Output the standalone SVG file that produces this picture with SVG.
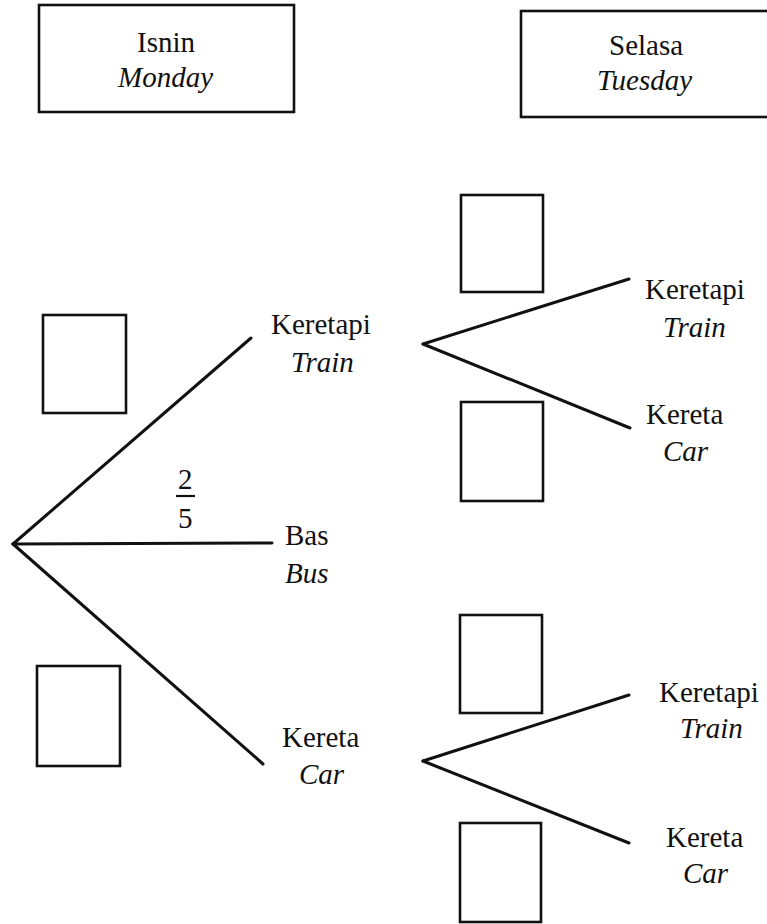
<svg xmlns="http://www.w3.org/2000/svg" width="767" height="924" viewBox="0 0 767 924">
<style>
.serif{font-family:"Times New Roman","Liberation Serif",Tinos,serif !important;font-size:29px}
</style>
<rect width="767" height="924" fill="#fff"/>
<g id="connectors" stroke="#111" stroke-width="3" fill="none" stroke-linecap="round">
<line x1="13" y1="544" x2="251" y2="338"/>
<line x1="13" y1="544" x2="272" y2="543"/>
<line x1="13" y1="544" x2="263" y2="764"/>
<line x1="423" y1="344" x2="629" y2="279"/>
<line x1="423" y1="344" x2="630" y2="428"/>
<line x1="423" y1="761" x2="629" y2="695"/>
<line x1="423" y1="761" x2="629" y2="843"/>
<line stroke-width="2.2" stroke-linecap="butt" x1="176" y1="496" x2="195" y2="496"/>
</g>
<g id="boxes" fill="#fff" stroke="#111" stroke-width="2.6">
<g id="head-monday-box"><rect x="39" y="5" width="255" height="107"/></g>
<g id="head-tuesday-box"><rect x="521" y="11" width="260" height="106"/></g>
<g id="box-m-train"><rect x="43" y="315" width="83" height="98"/></g>
<g id="box-m-car"><rect x="37" y="666" width="83" height="100"/></g>
<g id="box-t1-train"><rect x="461" y="195" width="82" height="97"/></g>
<g id="box-t1-car"><rect x="461" y="402" width="82" height="99"/></g>
<g id="box-t2-train"><rect x="460" y="615" width="82" height="98"/></g>
<g id="box-t2-car"><rect x="460" y="823" width="81" height="99"/></g>
</g>
<g id="labels" class="serif" font-family="Times New Roman, Liberation Serif, serif" font-size="29" fill="#111">
<g id="head-monday"><text x="137" y="52">Isnin</text><text x="118" y="87" font-style="italic">Monday</text></g>
<g id="head-tuesday"><text x="609" y="55">Selasa</text><text x="597" y="90" font-style="italic">Tuesday</text></g>
<g id="frac"><text x="178" y="489">2</text><text x="178" y="528">5</text></g>
<g id="m-train"><text x="271" y="334">Keretapi</text><text x="291" y="372" font-style="italic">Train</text></g>
<g id="m-bus"><text x="285" y="545">Bas</text><text x="285" y="583" font-style="italic">Bus</text></g>
<g id="m-car"><text x="282" y="747">Kereta</text><text x="299" y="784" font-style="italic">Car</text></g>
<g id="t1-train"><text x="645" y="299">Keretapi</text><text x="663" y="337" font-style="italic">Train</text></g>
<g id="t1-car"><text x="646" y="424">Kereta</text><text x="663" y="461" font-style="italic">Car</text></g>
<g id="t2-train"><text x="659" y="702">Keretapi</text><text x="680" y="738" font-style="italic">Train</text></g>
<g id="t2-car"><text x="666" y="847">Kereta</text><text x="683" y="883" font-style="italic">Car</text></g>
</g>
</svg>
